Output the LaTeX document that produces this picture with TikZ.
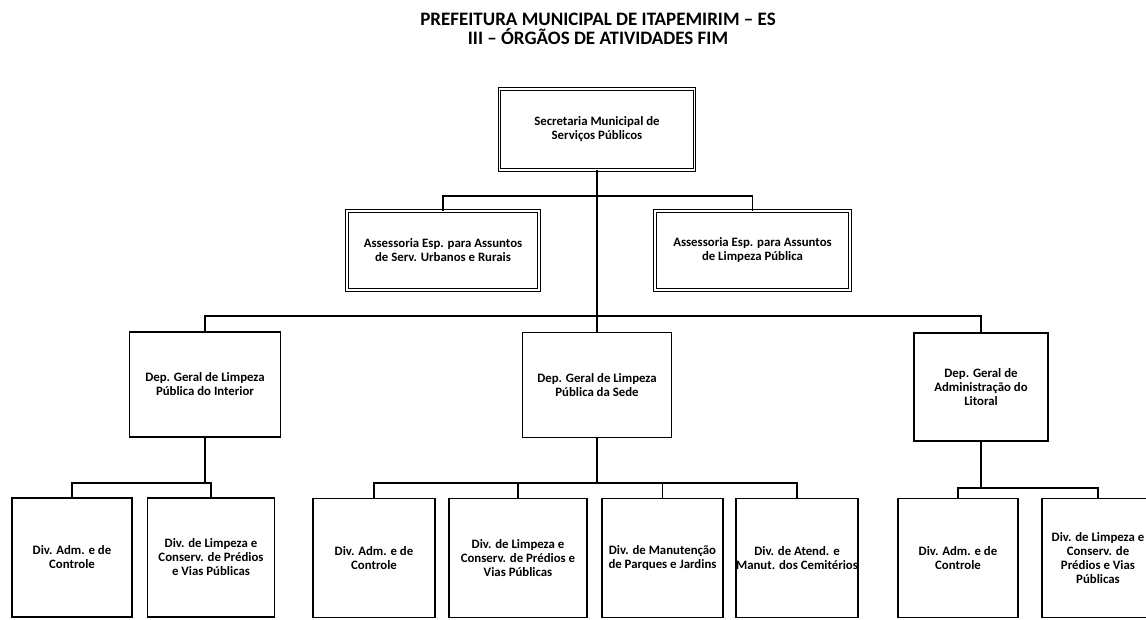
\documentclass[tikz,border=0pt]{standalone}
\usepackage{fontspec}
\setmainfont{Carlito}

\begin{document}
\begin{tikzpicture}[x=1pt, y=-1pt]
			\tikzstyle{box}=[rectangle, draw=black, line width=1.4pt, fill=white, align=center, inner xsep=0pt, inner ysep=2pt, font=\fontsize{12.8}{14}\selectfont\bfseries, minimum height=119pt]
			\tikzstyle{dbox}=[box, line width=0.9pt, double=white, double distance=1.8pt]
			\tikzstyle{conn}=[line width=1.6pt, draw=black]
			\tikzstyle{title}=[align=center, font=\fontsize{19}{19}\selectfont\bfseries]

			\useasboundingbox (0,0) rectangle (1146,619);

			% Title
			\node[title] (head) at (598,29) {PREFEITURA MUNICIPAL DE ITAPEMIRIM -- ES\\III -- ÓRGÃOS DE ATIVIDADES FIM};

			% Draw boxes
			\node[dbox, minimum width=195pt, minimum height=81pt] (sec) at (597,129.5) {Secretaria Municipal de\\Serviços Públicos};
			\node[dbox, minimum width=192pt, minimum height=79pt] (ase1) at (443,250.5) {Assessoria Esp. para Assuntos\\de Serv. Urbanos e Rurais};
			\node[dbox, minimum width=195pt, minimum height=79pt] (ase2) at (752.5,250.5) {Assessoria Esp. para Assuntos\\de Limpeza Pública};

			\node[box, minimum width=151pt, minimum height=105pt] (dep1) at (205,384.5) {Dep. Geral de Limpeza\\Pública do Interior};
			\node[box, minimum width=149pt, minimum height=105pt] (dep2) at (597,385) {Dep. Geral de Limpeza\\Pública da Sede};
			\node[box, minimum width=134pt, minimum height=108pt] (dep3) at (981,387) {Dep. Geral de\\Administração do\\Litoral};

			\node[box, minimum width=120pt] (div1) at (72,557.5) {Div. Adm. e de\\Controle};
			\node[box, minimum width=127pt] (div2) at (211,557.5) {Div. de Limpeza e\\Conserv. de Prédios\\e Vias Públicas};
			\node[box, minimum width=122pt] (div3) at (374,558) {Div. Adm. e de\\Controle};
			\node[box, minimum width=138pt] (div4) at (518,558) {Div. de Limpeza e\\Conserv. de Prédios e\\Vias Públicas};
			\node[box, minimum width=121pt] (div5) at (662.5,558) {Div. de Manutenção\\de Parques e Jardins};
			\node[box, minimum width=122pt] (div6) at (797,558) {Div. de Atend. e\\Manut. dos Cemitérios};
			\node[box, minimum width=120pt] (div7) at (958,558) {Div. Adm. e de\\Controle};
			\node[box, minimum width=112pt] (div8) at (1098,558) {Div. de Limpeza e\\Conserv. de\\Prédios e Vias\\Públicas};

			% Junctions
			\coordinate (barA) at (597,196);
			\coordinate (barB) at (597,316);
			\coordinate (barC) at (205,483);
			\coordinate (barD) at (597,483);
			\coordinate (barE) at (981,488);

			% Draw connectors
			\draw[conn] (sec.south) -- (dep2.north);
			\draw[conn] (ase1.north) |- (barA) -| (ase2.north);
			\draw[conn] (dep1.north) |- (barB) -| (dep3.north);

			\draw[conn] (dep1.south) -- (barC);
			\draw[conn] (div1.north) |- (barC) -| (div2.north);

			\draw[conn] (dep2.south) -- (barD);
			\draw[conn] (div3.north) |- (barD) -| (div6.north);
			\draw[conn] (div4.north) -- (div4.north |- barD);
			\draw[conn] (div5.north) -- (div5.north |- barD);

			\draw[conn] (dep3.south) -- (barE);
			\draw[conn] (div7.north) |- (barE) -| (div8.north);

		\end{tikzpicture}
\end{document}
